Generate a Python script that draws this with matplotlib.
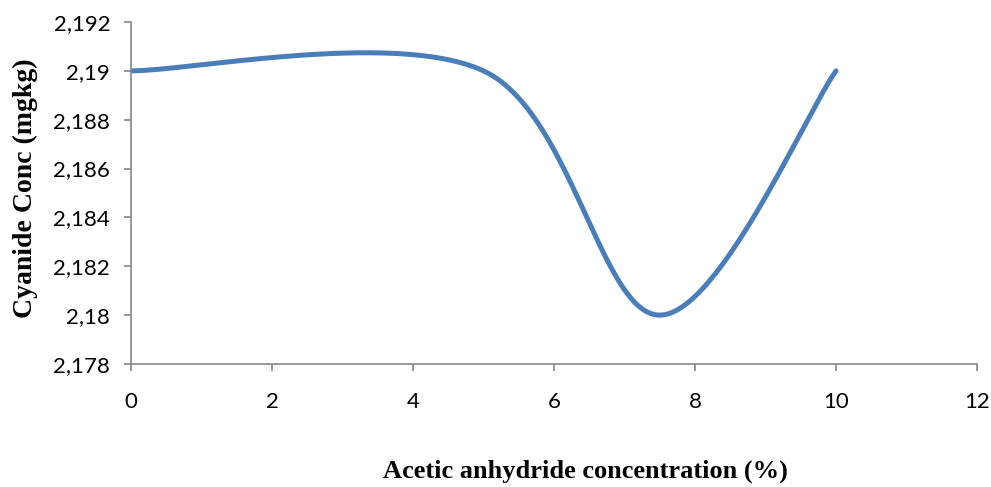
# -*- coding: utf-8 -*-

# Cyanide concentration vs acetic anhydride concentration (Excel style smooth line)

import numpy as np
import matplotlib
matplotlib.use("Agg")
import matplotlib.pyplot as plt
from matplotlib.ticker import FuncFormatter

conc = [0, 5, 7.5, 10]
cyanide = [2.19, 2.19, 2.18, 2.19]

x_ticks = [0, 2, 4, 6, 8, 10, 12]
y_ticks = [2.178, 2.18, 2.182, 2.184, 2.186, 2.188, 2.19, 2.192]


def smooth(xs, ys, n=60):
    # Catmull-Rom like bezier, as Excel's smoothed line does
    p = np.column_stack([xs, ys]).astype(float)
    p = np.vstack([p[0], p, p[-1]])
    out = []
    t = np.linspace(0, 1, n)[:, None]
    for i in range(1, len(p) - 2):
        p0, p1 = p[i], p[i + 1]
        c1 = p0 + (p[i + 1] - p[i - 1]) / 6
        c2 = p1 - (p[i + 2] - p[i]) / 6
        seg = ((1 - t) ** 3) * p0 + 3 * ((1 - t) ** 2) * t * c1 \
            + 3 * (1 - t) * t ** 2 * c2 + t ** 3 * p1
        out.append(seg)
    s = np.vstack(out)
    return s[:, 0], s[:, 1]


def fmt(v, pos):
    return ("%g" % round(v, 3)).replace(".", ",")


fig = plt.figure(figsize=(9.91, 4.87), dpi=100)
ax = fig.add_axes([131 / 991, 123 / 487, 846 / 991, 342 / 487])

sx, sy = smooth(conc, cyanide)
ax.plot(sx, sy, color="#4A7EBB", lw=3.6, solid_capstyle="round")

ax.set_xlim(0, 12)
ax.set_ylim(2.178, 2.192)
ax.set_xticks(x_ticks)
ax.set_yticks(y_ticks)
ax.yaxis.set_major_formatter(FuncFormatter(fmt))
ax.xaxis.set_major_formatter(FuncFormatter(fmt))

for s in ["top", "right"]:
    ax.spines[s].set_visible(False)
for s in ["left", "bottom"]:
    ax.spines[s].set_color("#868686")
    ax.spines[s].set_linewidth(1.2)

ax.tick_params(axis="both", direction="out", length=5, width=1.2,
               color="#868686", labelsize=16)
ax.tick_params(axis="x", pad=15)
ax.tick_params(axis="y", pad=10)
for lab in ax.get_xticklabels() + ax.get_yticklabels():
    lab.set_family("Lato")

fig.text(585 / 991, 1 - 471 / 487, "Acetic anhydride concentration (%)",
         family="Liberation Serif", weight="bold", fontsize=19,
         ha="center", va="center")
fig.text(25 / 991, 1 - 188 / 487, "Cyanide Conc (mgkg)",
         family="Liberation Serif", weight="bold", fontsize=20,
         ha="center", va="center", rotation=90)

fig.savefig("out.png", dpi=100)
